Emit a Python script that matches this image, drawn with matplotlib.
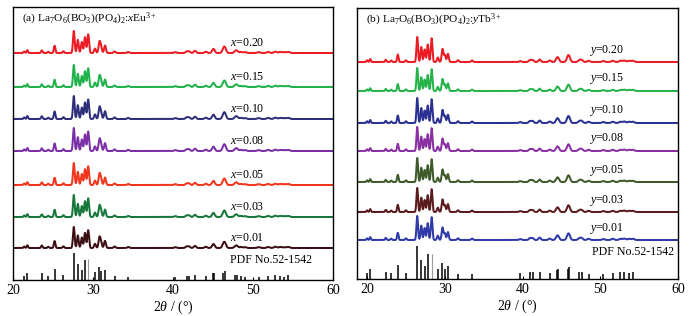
import numpy as np
import matplotlib
matplotlib.use("Agg")
import matplotlib.pyplot as plt

plt.rcParams['font.family'] = ['Liberation Serif', 'DejaVu Serif']
plt.rcParams['mathtext.fontset'] = 'custom'
plt.rcParams['mathtext.rm'] = 'Liberation Serif'
plt.rcParams['mathtext.it'] = 'Liberation Serif:italic'

# ---------------- Panel (a) data ----------------
pdf_a_pos = [21.4, 21.8, 23.6, 24.4, 25.2, 26.3, 27.6, 28.1, 28.6, 29.0, 29.4, 30.25, 30.8, 31.0,
             31.5, 32.7, 34.4, 40.3, 41.7, 42.0, 42.75, 44.1, 45.0, 45.1, 46.3, 46.5, 47.8, 48.0,
             48.5, 49.0, 50.7, 51.9, 52.8, 53.4, 53.9, 54.4]
pdf_a_int = [0.15, 0.27, 0.25, 0.15, 0.41, 0.17, 1.0, 0.59, 0.37, 0.75, 0.77, 0.31, 0.5, 0.35,
             0.37, 0.15, 0.12, 0.12, 0.15, 0.15, 0.2, 0.15, 0.25, 0.27, 0.27, 0.33, 0.17, 0.2,
             0.15, 0.12, 0.12, 0.15, 0.17, 0.15, 0.12, 0.2]
xrd_a_int = [0.07, 0.13, 0.12, 0.06, 0.33, 0.08, 1.0, 0.6, 0.5, 0.72, 0.85, 0.2, 0.48, 0.28,
             0.34, 0.07, 0.05, 0.04, 0.07, 0.07, 0.1, 0.06, 0.1, 0.1, 0.16, 0.2, 0.07, 0.08,
             0.05, 0.04, 0.04, 0.05, 0.06, 0.05, 0.04, 0.05]
labels_a = ['0.20', '0.15', '0.10', '0.08', '0.05', '0.03', '0.01']
colors_a = ['#ec1c24', '#1fb24a', '#2e2f7a', '#7a2fa6', '#f2361c', '#17773a', '#3b0f14']
offsets_a = [227, 193, 161, 129, 95, 63, 32]
heights_a = [22, 22, 23, 23, 22, 22, 21]

# ---------------- Panel (b) data ----------------
pdf_b_pos = [20.0, 20.4, 22.4, 23.1, 23.95, 25.0, 26.45, 26.97, 27.4, 27.8, 28.3, 29.1, 29.7, 30.0,
             30.4, 31.7, 33.5, 39.7, 40.95, 41.3, 42.2, 43.5, 44.4, 44.6, 45.8, 46.0, 47.3, 47.6,
             48.5, 50.4, 51.6, 52.6, 53.1, 53.7, 54.2]
pdf_b_int = [0.18, 0.3, 0.22, 0.17, 0.42, 0.17, 1.0, 0.58, 0.38, 0.75, 0.75, 0.3, 0.5, 0.3,
             0.38, 0.15, 0.15, 0.17, 0.2, 0.2, 0.22, 0.17, 0.28, 0.3, 0.3, 0.35, 0.2, 0.22,
             0.15, 0.15, 0.17, 0.2, 0.2, 0.17, 0.22]
xrd_b_int = [0.07, 0.12, 0.09, 0.06, 0.3, 0.07, 1.0, 0.6, 0.5, 0.7, 0.95, 0.18, 0.52, 0.28,
             0.33, 0.07, 0.06, 0.04, 0.08, 0.08, 0.1, 0.06, 0.12, 0.12, 0.16, 0.18, 0.07, 0.08,
             0.05, 0.04, 0.05, 0.05, 0.06, 0.05, 0.05]
labels_b = ['0.20', '0.15', '0.10', '0.08', '0.05', '0.03', '0.01']
colors_b = ['#ec1c24', '#26b34a', '#2b3192', '#8a2fa3', '#3f5a2a', '#5a1a1e', '#2f3aa8']
offsets_b = [217, 188, 156, 128, 97, 67, 39]
heights_b = [25, 23, 25, 24, 24, 24, 24]

# reference lines drawn faint (grey) in the original
faint_a = [29.4]
faint_b = [28.3]

tth = np.linspace(18.5, 60, 4000)


def profile(pos, inten):
    y = np.zeros_like(tth)
    for p, h in zip(pos, inten):
        w = 0.08 + 0.003 * (p - 20)
        y += h * np.exp(-0.5 * ((tth - p) / w) ** 2)
    return y


fig = plt.figure(figsize=(6.96, 3.16), dpi=100)
ax_a = fig.add_axes([13 / 696, 36 / 316, 320 / 696, 273 / 316])
ax_b = fig.add_axes([357 / 696, 37 / 316, 321 / 696, 271 / 316])


def draw(ax, pdf_pos, pdf_int, xrd_int, faint, labels, colors, offsets, heights, letter, var,
         ion, lab_x, pdf_h, pdf_lab_x, pdf_lab_y, ymax, xlim, lab_dy):
    base = profile(pdf_pos, xrd_int)
    base = base / base.max()
    for lab, c, off, h in zip(labels, colors, offsets, heights):
        ax.plot(tth, off + h * base, color=c, lw=1.45)
        ax.text(lab_x, off + lab_dy, f'${var}$=' + lab, fontsize=8.6, va='center', ha='left')
    solid_p = [p for p in pdf_pos if p not in faint]
    solid_h = [pdf_h * v for p, v in zip(pdf_pos, pdf_int) if p not in faint]
    faint_h = [pdf_h * v for p, v in zip(pdf_pos, pdf_int) if p in faint]
    ax.vlines(solid_p, 0, solid_h, color='black', lw=1.1)
    ax.vlines(faint, 0, faint_h, color='#9a9a9a', lw=0.8)
    ax.text(pdf_lab_x, pdf_lab_y, 'PDF No.52-1542', fontsize=8.6, va='center', ha='left')
    ax.text(0.028, 0.955,
            rf'({letter}) La$_7$O$_6$(BO$_3$)(PO$_4$)$_2$:${var}${ion}$^{{3+}}$',
            transform=ax.transAxes, fontsize=8.2, va='center', ha='left')
    ax.set_xlim(*xlim)
    ax.set_ylim(0, ymax)
    ax.set_yticks([])
    ax.set_xticks([20, 30, 40, 50, 60])
    ax.tick_params(axis='x', direction='in', length=2, labelsize=10, pad=3)
    ax.set_xlabel(r'2$\theta$ / (°)', fontsize=10, labelpad=1)
    for s in ax.spines.values():
        s.set_linewidth(1.0)


draw(ax_a, pdf_a_pos, pdf_a_int, xrd_a_int, faint_a, labels_a, colors_a, offsets_a, heights_a,
     'a', 'x', 'Eu', 47.1, 27, 47.1, 20, 273, (20, 60), 10)
draw(ax_b, pdf_b_pos, pdf_b_int, xrd_b_int, faint_b, labels_b, colors_b, offsets_b, heights_b,
     'b', 'y', 'Tb', 48.6, 33, 48.9, 27, 271, (18.7, 60), 12)

fig.savefig('out.png', dpi=100)
